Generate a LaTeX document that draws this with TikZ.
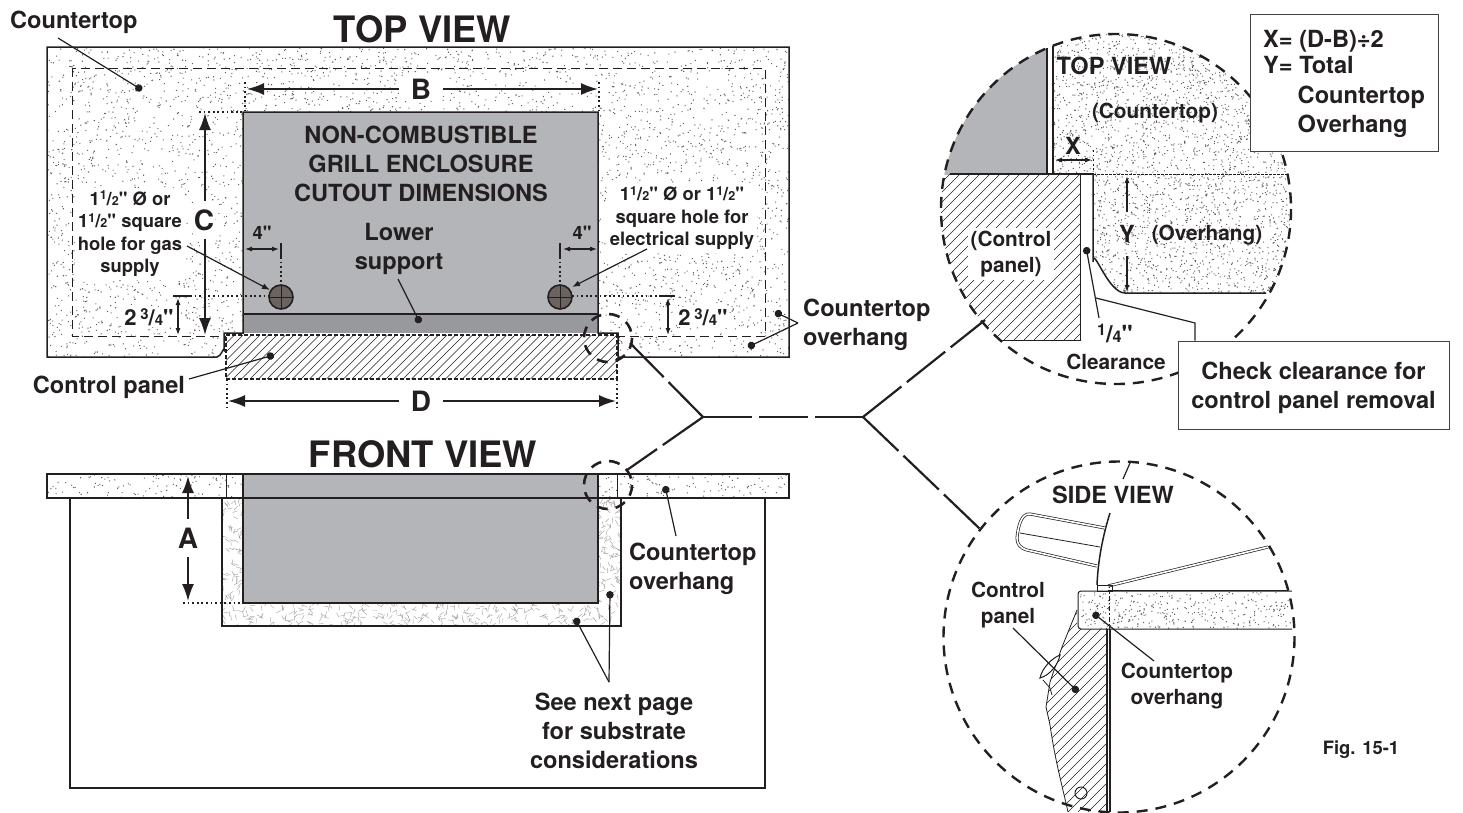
\documentclass[tikz,border=0pt]{standalone}
\usepackage{fontspec}
\setmainfont[Ligatures=TeXOff]{TeX Gyre Heros}
\usetikzlibrary{calc}
\usetikzlibrary{arrows.meta}
\definecolor{ink}{HTML}{231F20}
\definecolor{panelgray}{HTML}{B3B5B8}
\definecolor{supportgray}{HTML}{97999C}
\definecolor{holegray}{HTML}{6B6360}
\newcommand\bigf{\bfseries\fontsize{36.4}{36.4}\selectfont}
\newcommand\midf{\bfseries\fontsize{23.6}{29}\selectfont}
\newcommand\dtlf{\bfseries\fontsize{20.8}{26}\selectfont}
\newcommand\smlf{\bfseries\fontsize{18.4}{22.5}\selectfont}
\newcommand\letf{\bfseries\fontsize{28}{28}\selectfont}
\newcommand\frc[2]{\raisebox{.55ex}{\scalebox{.68}{#1}}/\scalebox{.68}{#2}}
\tikzstyle{txt}=[text=ink,align=center,inner sep=1pt]
\tikzstyle{note}=[txt,fill=white]
\tikzstyle{dimletter}=[txt,fill=white,font=\letf]
\tikzstyle{outline}=[ink,line width=1.5pt]
\tikzstyle{thinline}=[ink,line width=.8pt]
\tikzstyle{leader}=[ink,line width=1.2pt]
\tikzstyle{dotleader}=[leader,-{Circle[length=7.5pt]}]
\tikzstyle{dimbig}=[ink,line width=1.8pt,-{Latex[length=17pt,width=12pt]}]
\tikzstyle{dimsmall}=[ink,line width=1.1pt,{Latex[length=7pt,width=5pt]}-{Latex[length=7pt,width=5pt]}]
\tikzstyle{dotted line}=[ink,line width=1.8pt,dash pattern=on 1.8pt off 2.8pt]
\tikzstyle{speck}=[ink!70]
\tikzstyle{fibre}=[black!35,line width=.45pt]
\tikzstyle{hatchline}=[ink,line width=.55pt]
\tikzstyle{callout}=[ink,line width=2.6pt,dash pattern=on 11pt off 8pt]
\tikzstyle{branch}=[ink,line width=2.2pt,dash pattern=on 49pt off 7pt]
\tikzstyle{dbl}=[ink,line width=.7pt,double,double distance=1.6pt]
\newcommand\stipple[5]{
  \fill[speck] \foreach \i [evaluate=\i as \px using {#1+rnd*(#3-#1)},
    evaluate=\i as \py using {#2+rnd*(#4-#2)}] in {1,...,#5} {(\px,\py) rectangle ++(1.05,1.05)};
}
\newcommand\fibres[5]{
  \draw[fibre] \foreach \i [evaluate=\i as \px using {#1+rnd*(#3-#1)},
    evaluate=\i as \py using {#2+rnd*(#4-#2)},
    evaluate=\i as \pa using {rnd*360}] in {1,...,#5} {(\px,\py) -- ++(\pa:5)};
}
\newcommand\hatch[5]{
  \pgfmathtruncatemacro\nn{(#3-#1+#4-#2)/#5}
  \foreach \i in {0,...,\nn}
    \draw[hatchline] ({#1-(#4-#2)+\i*#5},#4) -- ++({#4-#2},{-(#4-#2)});
}
\begin{document}
\begin{tikzpicture}[x=1pt,y=-1pt]
  \useasboundingbox (0,0) rectangle (1463,812);
  \pgfmathsetseed{1511}

  % TOP VIEW
  \begin{scope}
    \clip (47,47) -- (789,47) -- (789,357) -- (618,357) -- (618,333) -- (598,333)
      -- (598,112) -- (243,112) -- (243,333) -- (224,333) -- (224,357) -- (47,357) -- cycle;
    \stipple{47}{47}{789}{357}{5500}
  \end{scope}
  \draw[ink,line width=.8pt,dash pattern=on 9pt off 5pt] (72,68) rectangle (765,336);
  \fill[panelgray] (243,112) rectangle (598,314);
  \fill[supportgray] (243,314) rectangle (598,333);
  \fill[white] (226,335) rectangle (617,379);
  \begin{scope}
    \clip (226,335) rectangle (617,379);
    \hatch{226}{335}{617}{379}{8.5}
  \end{scope}
  \draw[outline,line width=1.1pt,dash pattern=on 4pt off 2pt] (226,335) -- (617,335) -- (617,379) -- (226,379) -- cycle;
  \draw[outline] (598,333) -- (618,333) -- (618,357) -- (789,357) -- (789,47) -- (47,47) -- (47,357)
    -- (217,357) to[out=0,in=90] (224,350) -- (224,333) -- (243,333) -- (243,112) -- (598,112) -- cycle;
  \draw[outline] (243,314) -- (598,314);

  \foreach \cx in {281,560} {
    \fill[holegray,draw=ink,line width=1.6pt] (\cx,297) circle (12);
    \draw[ink,line width=.5pt] (\cx-12,297) -- (\cx+12,297) (\cx,285) -- (\cx,309);
  }

  \node[txt,font=\bigf] (topTitle) at (422.5,29) {TOP VIEW};
  \node[txt,font=\midf] (topText) at (421,164) {NON-COMBUSTIBLE\\GRILL ENCLOSURE\\CUTOUT DIMENSIONS};
  \node[txt,font=\midf] (lowerLbl) at (399,249) {Lower\\support};
  \node[txt,font=\midf,anchor=west] (ctLbl) at (9,22) {Countertop};
  \node[txt,font=\midf] (panelLbl) at (109,387) {Control panel};
  \node[txt,font=\midf,align=left,anchor=west] (ohLbl) at (802,325) {Countertop\\overhang};
  \node[note,font=\smlf,inner sep=3pt] (gasLbl) at (130,234) {1\frc{1}{2}" Ø or\\1\frc{1}{2}" square\\hole for gas\\supply};
  \node[note,font=\smlf,inner sep=3pt] (elecLbl) at (682,218) {1\frc{1}{2}" Ø or 1\frc{1}{2}"\\square hole for\\electrical supply};
  \node[dimletter,minimum width=44pt] (dimB) at (421,89) {B};
  \node[dimletter,minimum height=38pt] (dimC) at (204,220) {C};
  \node[dimletter,minimum width=44pt,fill=none] (dimD) at (421,401) {D};
  \node[txt,font=\smlf] (fourL) at (262,233) {4"};
  \node[txt,font=\smlf] (fourR) at (582,233) {4"};
  \node[note,font=\smlf] (hgtL) at (149,317) {\fontsize{22}{22}\selectfont 2\,\frc{3}{4}"};
  \node[note,font=\smlf] (hgtR) at (703,317) {\fontsize{22}{22}\selectfont 2\,\frc{3}{4}"};

  % dimensions
  \coordinate (bL) at (247,89); \coordinate (bR) at (598,89);
  \coordinate (cT) at (205,113); \coordinate (cB) at (205,335);
  \coordinate (dL) at (228,401); \coordinate (dR) at (616,401);
  \draw[dimbig] (dimB) -- (bL);
  \draw[dimbig] (dimB) -- (bR);
  \draw[dimbig] (dimC.north -| cT) -- (cT);
  \draw[dimbig] (dimC.south -| cB) -- (cB);
  \draw[dimbig] (dimD) -- (dL);
  \draw[dimbig] (dimD) -- (dR);
  \draw[dotted line] (245,82) -- (245,112) (599,82) -- (599,112);
  \draw[dotted line] (199,112) -- (243,112);
  \draw[dotted line] (227,379) -- (227,407) (617,379) -- (617,407);
  \draw[dotted line] (190,296) -- (269,296) (572,296) -- (659,296);
  \draw[dotted line] (281,257) -- (281,285) (560,257) -- (560,285);
  \draw[ink,line width=1.5pt] (173,296) -- (190,296) (659,296) -- (675,296);
  \draw[ink,line width=1.2pt] (281,243) -- (281,257) (560,243) -- (560,257);
  \draw[dimsmall] (245,249) -- (279,249);
  \draw[dimsmall] (563,249) -- (597,249);
  \draw[dimsmall] (178,298) -- (178,335);
  \draw[dimsmall] (668,298) -- (668,335);

  % leaders
  \coordinate (ctFoot) at (58,38); \coordinate (ctDot) at (142,90);
  \coordinate (gasFoot) at (187,246); \coordinate (gasHole) at (270,290);
  \coordinate (elecFoot) at (647,249); \coordinate (elecHole) at (572,287);
  \coordinate (lowFoot) at (398,279); \coordinate (lowDot) at (420,323);
  \coordinate (panelFoot) at (189,379); \coordinate (panelDot) at (274,355);
  \coordinate (ohFoot) at (798,323); \coordinate (ohDotA) at (775,312); \coordinate (ohDotB) at (748,347);
  \draw[dotleader] (ctFoot) -- (ctDot);
  \draw[leader,-{Latex[length=8pt,width=6pt]}] (gasFoot) -- (gasHole);
  \draw[leader,-{Latex[length=8pt,width=6pt]}] (elecFoot) -- (elecHole);
  \draw[dotleader] (lowFoot) -- (lowDot);
  \draw[dotleader] (panelFoot) -- (panelDot);
  \draw[dotleader] (ohFoot) -- (ohDotA);
  \draw[dotleader] (ohFoot) -- (ohDotB);

  % FRONT VIEW
  \stipple{47}{474}{789}{498}{450}
  \fill[white] (222,498) rectangle (621,626);
  \begin{scope}
    \clip (222,498) rectangle (621,626);
    \fibres{222}{498}{621}{626}{1800}
  \end{scope}
  \fill[panelgray] (243,474) rectangle (598,603);
  \draw[outline] (47,474) rectangle (789,498);
  \draw[outline] (243,474) rectangle (598,603);
  \draw[outline] (70,498) -- (70,788) -- (765,788) -- (765,498);
  \draw[outline,line width=1.9pt] (222,498) -- (222,626) -- (621,626) -- (621,498);
  \draw[thinline] (226,474) -- (226,498) (617,474) -- (617,498);

  \node[txt,font=\bigf] (frontTitle) at (423,454) {FRONT VIEW};
  \node[dimletter,fill=none,minimum height=38pt] (dimA) at (188,538) {A};
  \coordinate (aT) at (188,476); \coordinate (aB) at (188,601);
  \draw[dimbig] (dimA) -- (aT);
  \draw[dimbig] (dimA) -- (aB);
  \draw[dotted line] (183,603) -- (243,603);
  \node[txt,font=\midf,align=left,anchor=west] (ohFront) at (628,569) {Countertop\\overhang};
  \node[txt,font=\midf] (seeLbl) at (614,731) {See next page\\for substrate\\considerations};
  \coordinate (ohFrontFoot) at (676,536); \coordinate (ohFrontDot) at (665,486);
  \coordinate (seeFoot) at (609,682); \coordinate (seeDotA) at (575,618); \coordinate (seeDotB) at (610,591);
  \draw[dotleader] (ohFrontFoot) -- (ohFrontDot);
  \draw[dotleader] (seeFoot) -- (seeDotA);
  \draw[dotleader] (seeFoot) -- (seeDotB);

  % CALLOUT BRANCHES
  \coordinate (hubL) at (703,417); \coordinate (hubR) at (863,417);
  \coordinate (smallTop) at (608,338); \coordinate (smallFront) at (608,485);
  \draw[callout] (smallTop) circle (24);
  \draw[callout] (smallFront) circle (24);
  \draw[branch] (hubL) -- (630,343);
  \draw[branch] (hubL) -- (627,470);
  \draw[branch] (hubL) -- (hubR);
  \draw[branch] (hubR) -- (985,320);
  \draw[branch] (hubR) -- (980,529);

  % TOP DETAIL
  \coordinate (topDetail) at (1116,209);
  \begin{scope}
    \clip (930,20) rectangle (1046,174);
    \fill[panelgray] (topDetail) circle (175);
  \end{scope}
  \begin{scope}
    \clip (topDetail) circle (175);
    \begin{scope}
      \clip (1053,30) -- (1300,30) -- (1300,293) -- (1125,293) to[out=180,in=90] (1093,262) -- (1093,174) -- (1053,174) -- cycle;
      \stipple{1053}{30}{1295}{295}{3000}
    \end{scope}
    \begin{scope}
      \clip (930,174) rectangle (1080,340);
      \hatch{930}{174}{1080}{340}{10}
    \end{scope}
    \draw[ink,line width=.8pt] (1080,174) -- (1080,340) -- (1000,340);
    \draw[ink,line width=.5pt,dash pattern=on 3pt off 1pt] (1093,174) -- (1300,174);
  \end{scope}
  \draw[outline,line width=2pt] (1047,48) -- (1047,174) (1053,46) -- (1053,174) (950,174) -- (1093,174);
  \draw[outline] (1093,174) -- (1093,262) to[out=90,in=180] (1125,293) -- (1266,293);
  \draw[callout,line width=2.4pt] (topDetail) circle (175);

  \node[txt,font=\midf] (topDetailTitle) at (1114,66) {TOP VIEW};
  \node[txt,font=\dtlf] (ctDetail) at (1155,113.5) {(Countertop)};
  \node[txt,font=\midf] (xLbl) at (1073,146) {X};
  \node[txt,font=\midf,minimum height=44pt] (yLbl) at (1127,234) {Y};
  \node[txt,font=\dtlf] (ohDetail) at (1207,235.5) {(Overhang)};
  \node[note,font=\dtlf,inner sep=3pt] (cpDetail) at (1011,254) {(Control\\panel)};
  \node[txt,font=\midf] (quarter) at (1115,333) {\frc{1}{4}"};
  \node[txt,font=\dtlf] (clrLbl) at (1116,362) {Clearance};
  \coordinate (yT) at (1127,176); \coordinate (yB) at (1127,292);
  \draw[ink,line width=1.1pt,-{Latex[length=7pt,width=5pt]}] (yLbl) -- (yT);
  \draw[ink,line width=1.1pt,-{Latex[length=7pt,width=5pt]}] (yLbl) -- (yB);
  \draw[dimsmall] (1055,160) -- (1092,160);
  \draw[dotted line,line width=1pt] (1093,150) -- (1093,174);
  \coordinate (clrDot) at (1086,247); \coordinate (clrFoot) at (1099,318);
  \draw[dotleader] (clrFoot) -- (clrDot);

  \node[draw=ink!85,line width=1pt,fill=white,minimum width=188pt,minimum height=137pt,inner sep=0pt] (formula) at (1344,82.5) {};
  \node[txt,font=\midf,align=left,anchor=west] (formulaTxt) at (1262,84)
    {X= (D-B)÷2\\[-3pt]Y= Total\\[.8pt]\hspace*{34.5pt}Countertop\\[.2pt]\hspace*{34.5pt}Overhang};
  \node[draw=ink!85,line width=1pt,fill=white,minimum width=271pt,minimum height=88pt,inner sep=0pt] (checkBox) at (1313.5,385) {};
  \node[txt,font=\midf] (checkTxt) at (1313.5,388) {Check clearance for\\control panel removal};
  \coordinate (gapFoot) at (1096,298); \coordinate (gapBend) at (1195,323);
  \draw[leader] (gapFoot) -- (gapBend) -- (gapBend |- checkBox.north);

  % SIDE DETAIL
  \coordinate (sideDetail) at (1119,637);
  \begin{scope}
    \clip (0,0) rectangle (1463,812);
    \begin{scope}
      \clip (1077,610) -- (1062,647) -- (1050,682) -- (1046,707) -- (1050,725)
        .. controls (1055,760) and (1062,785) .. (1068,812) -- (1108,812) -- (1108,629) -- (1077,629) -- cycle;
      \hatch{1040}{610}{1108}{812}{10}
    \end{scope}
    \draw[thinline] (1077,610) -- (1062,647) -- (1050,682) -- (1046,707) -- (1050,725)
      .. controls (1055,760) and (1062,785) .. (1068,812);
    \draw[ink,line width=1pt,fill=white] (1040,678) .. controls (1042,668) and (1052,658) .. (1060,655)
      .. controls (1058,665) and (1050,675) .. (1040,678) -- cycle;
    \draw[thinline] (1043,680) -- (1050,688) -- (1052,695);
    \draw[ink,line width=1pt] (1081,793) circle (6);
    \draw[ink,line width=1.5pt] (1107,629) -- (1107,812) (1110,629) -- (1110,812);
  \end{scope}
  \begin{scope}
    \clip (sideDetail) circle (174);
    \stipple{1080}{592}{1290}{628}{340}
  \end{scope}
  \draw[ink,line width=1pt,rounded corners=3pt] (1292,591) -- (1078,591) -- (1078,629) -- (1292,629);
  \draw[ink,line width=.8pt,dash pattern=on 5pt off 2pt on 1.5pt off 2pt] (1109,585) -- (1109,629);
  \draw[dbl] (1108,586) -- (1268,547);
  \draw[dbl] (1108,589) -- (1288,589);
  \draw[ink,line width=.8pt] (1097,585) rectangle (1112,591);
  \draw[ink,line width=1.5pt] (1110,513) .. controls (1103,535) and (1098,560) .. (1097,585);
  \draw[dbl] (1105,528) -- (1030,514) .. controls (1021,513) and (1018,527) .. (1017,538)
    .. controls (1017,544) and (1020,548) .. (1027,550) -- (1097,566);
  \draw[thinline] (1020,533) -- (1100,547);
  \begin{scope}
    \clip (0,0) rectangle (1463,812);
    \draw[callout,line width=2.4pt] (sideDetail) circle (175.5);
  \end{scope}

  \node[txt,font=\midf] (sideTitle) at (1113,495) {SIDE VIEW};
  \node[txt,font=\dtlf] (cpSide) at (1008,605) {Control\\panel};
  \node[txt,font=\dtlf] (ohSide) at (1177,686.5) {Countertop\\overhang};
  \coordinate (sideTick) at (1130,463); \coordinate (sideTickB) at (1123,479);
  \draw[leader] (sideTick) -- (sideTickB);
  \coordinate (cpFoot) at (1013,628); \coordinate (cpDot) at (1078,692);
  \coordinate (ohSideFoot) at (1154,661); \coordinate (ohSideDot) at (1093,613);
  \draw[dotleader] (cpFoot) -- (cpDot);
  \draw[dotleader] (ohSideFoot) -- (ohSideDot);

  \node[txt,font=\smlf] (figLbl) at (1361,750) {Fig. 15-1};
\end{tikzpicture}
\end{document}
